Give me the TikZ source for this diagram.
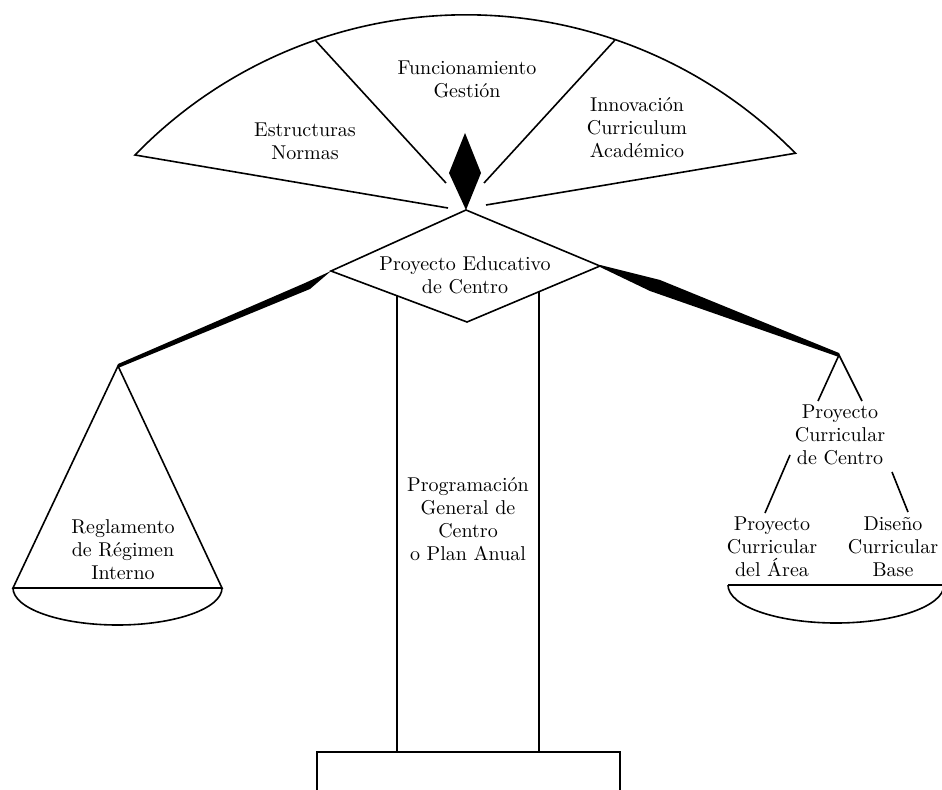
\documentclass[tikz,border=0pt]{standalone}
\usepackage{fontspec}
\begin{document}
\begin{tikzpicture}[x=0.5pt,y=0.5pt,draw=black,line width=0.8pt,
		label/.style={align=center,font=\fontsize{10}{11.5}\selectfont,inner sep=0pt}]
		\useasboundingbox (0,0) rectangle (942,789);
		\clip (0,0) rectangle (942,789);
		% fan
		\draw (448,581) -- (135,634)
			arc[start angle=135.9, end angle=44.4, radius=461]
			-- (486,584);
		\draw (315,749) -- (446,606);
		\draw (615,749) -- (484,606);
		\fill (465,656) -- (449,616) -- (466,579) -- (481,616) -- cycle;
		\node[label] (normas) at (305,648) {Estructuras\\Normas};
		\node[label] (gestion) at (467,710) {Funcionamiento\\Gestión};
		\node[label] (innov) at (637,661) {Innovación\\Curriculum\\Académico};
		% beam
		\fill (118,425) -- (305,506) -- (331,518) -- (310,500) -- (118,421) -- cycle;
		\fill (600,524) -- (660,509) -- (839,436) -- (839,432) -- (650,498) -- (600,522) -- cycle;
		% column and base
		\draw (397,493) -- (397,37);
		\draw (539,497) -- (539,37);
		\draw (317,-10) rectangle (620,37);
		\node[label] (pga) at (468,270) {Programación\\General de\\Centro\\o Plan Anual};
		% centre
		\draw (466,579) -- (331,518) -- (467,467) -- (600,523) -- cycle;
		\node[label] (pec) at (465,514) {Proyecto Educativo\\de Centro};
		% left pan
		\draw (118,423) -- (13,201) -- (222,201) -- cycle;
		\draw (13,201) arc[start angle=180, end angle=360, x radius=104.5, y radius=37];
		\node[label] (rri) at (123,239) {Reglamento\\de Régimen\\Interno};
		% right pan
		\draw (818,388) -- (839,434) -- (862,388);
		\node[label] (pcc) at (840,354) {Proyecto\\Curricular\\de Centro};
		\node[label] (pca) at (772,242) {Proyecto\\Curricular\\del Área};
		\node[label] (dcb) at (893,242) {Diseño\\Curricular\\Base};
		\draw (790,334) -- (765,276);
		\draw (892,317) -- (908,277);
		\draw (728,204) -- (944,204);
		\draw (728,204) arc[start angle=180, end angle=360, x radius=108, y radius=38];
	\end{tikzpicture}
\end{document}
